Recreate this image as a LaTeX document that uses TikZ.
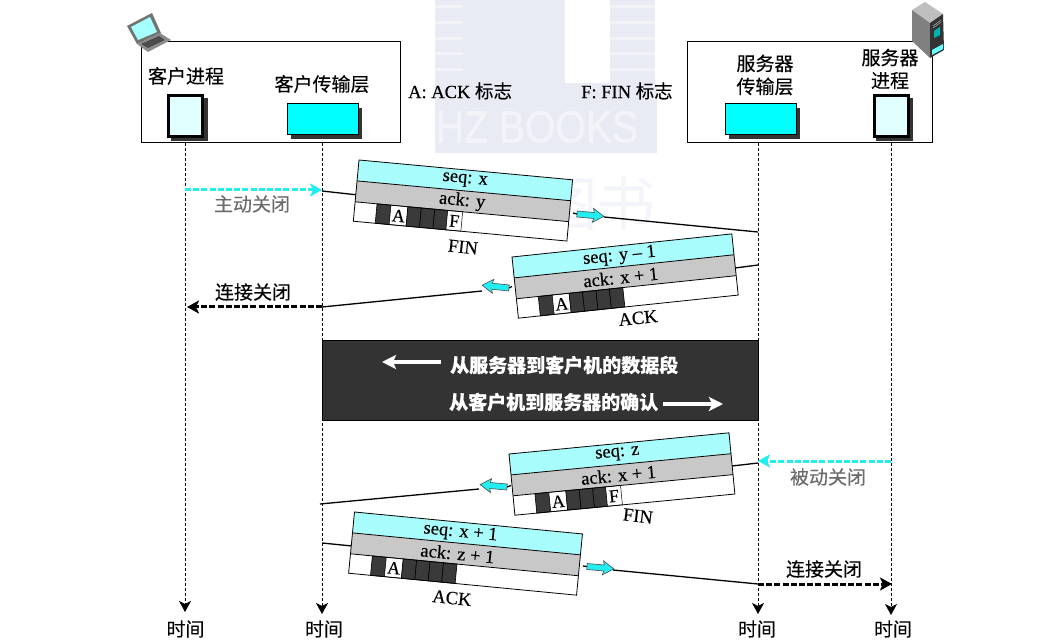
\documentclass[tikz,border=0pt]{standalone}
\usepackage{fontspec}
\setmainfont{Liberation Serif}[FakeBold=0.3]
\newfontfamily\cjk{Noto Sans CJK SC}[FakeBold=0.2]
\newfontfamily\wmfont{Liberation Sans}[FakeBold=1.5]
\usetikzlibrary{arrows.meta}
\definecolor{wm}{HTML}{E9EBF4}
\definecolor{wmline}{HTML}{F1F3F8}
\definecolor{wmtext}{HTML}{F2F4F9}
\definecolor{wmfaint}{HTML}{F4F5FA}
\definecolor{darkcell}{HTML}{3A3A3A}
\definecolor{band}{HTML}{333333}
\definecolor{seqcyan}{HTML}{A9FCFC}
\definecolor{ackgrey}{HTML}{C8C8C8}
\definecolor{proc}{HTML}{E2FFFF}
\definecolor{dgrey}{HTML}{6A6A6A}
\definecolor{arrowcyan}{HTML}{22EDF0}
\definecolor{purecyan}{HTML}{00FFFF}
\definecolor{shadowc}{HTML}{333333}
\tikzset{
  lbl/.style={inner sep=0pt,font=\fontsize{18.5}{20}\selectfont},
  zh/.style={inner sep=0pt,font=\fontsize{19}{22}\selectfont\cjk,align=center},
  zhgrey/.style={zh,text=dgrey},
  zhband/.style={inner sep=0pt,font=\fontsize{19}{22}\selectfont\cjk\bfseries,text=white},
  frame/.style={draw=black,line width=1pt},
  lifeline/.style={line width=1pt,dash pattern=on 3pt off 2pt,-{Stealth[length=11pt,width=12pt,inset=3pt]}},
  cyanflow/.style={line width=3pt,color=arrowcyan,dash pattern=on 6pt off 2.2pt,-{Stealth[length=12pt,width=13pt,inset=3pt]}},
  blackflow/.style={line width=3pt,color=black,dash pattern=on 6pt off 2.2pt,-{Stealth[length=12pt,width=13pt,inset=3pt]}},
  wire/.style={line width=1.3pt,color=black},
  whiteflow/.style={line width=4pt,color=white,-{Stealth[length=14pt,width=14pt,inset=3pt]}},
  procbox/.style={draw=black,line width=3pt,fill=proc,inner sep=0pt,outer sep=0pt,minimum width=34pt,minimum height=41pt},
  transbox/.style={draw=black,line width=1pt,fill=purecyan,inner sep=0pt,outer sep=0pt,minimum width=71pt,minimum height=31pt},
  shadowfill/.style={fill=shadowc},
  blockarrow/.style={draw=black!70,line width=.6pt,fill=arrowcyan},
  segline/.style={draw=black,line width=.8pt},
  darkc/.style={draw=black,line width=.6pt,fill=darkcell},
  flagc/.style={draw=black,line width=.5pt,fill=white},
  flagt/.style={lbl,transform shape,font=\fontsize{18}{20}\selectfont}
}
% #1 name, #2 corner, #3 angle, #4 width, #5 seq, #6 ack, #7 text offset, #8 flag cells
\newcommand\tcpseg[8]{%
  \begin{scope}[shift={#2},rotate=#3]
    \path[fill=seqcyan] (0,0) rectangle (#4,21);
    \path[fill=ackgrey] (0,21) rectangle (#4,42);
    \path[fill=white] (0,42) rectangle (#4,61.5);
    #8
    \draw[segline] (0,0) rectangle (#4,61.5);
    \draw[segline] (0,21) -- (#4,21) (0,42) -- (#4,42);
    \node[lbl,transform shape] (#1seq) at (#7,10.5) {#5};
    \node[lbl,transform shape] (#1ack) at (#7-1,31.5) {#6};
  \end{scope}}
\newcommand\cellsF{%
  \draw[darkc] (22,42) rectangle (36,61.5);
  \draw[flagc] (36,42) rectangle (53,61.5);
  \node[flagt] at (44.5,52) {A};
  \draw[darkc] (53,42) rectangle (66.5,61.5);
  \draw[darkc] (66.5,42) rectangle (80,61.5);
  \draw[darkc] (80,42) rectangle (93,61.5);
  \draw[flagc] (93,42) rectangle (108,61.5);
  \node[flagt] at (100.5,52) {F};}
\newcommand\cellsA{%
  \draw[darkc] (22,42) rectangle (36,61.5);
  \draw[flagc] (36,42) rectangle (53,61.5);
  \node[flagt] at (44.5,52) {A};
  \draw[darkc] (53,42) rectangle (66.5,61.5);
  \draw[darkc] (66.5,42) rectangle (80,61.5);
  \draw[darkc] (80,42) rectangle (93.5,61.5);
  \draw[darkc] (93.5,42) rectangle (107,61.5);}
% block arrow: #1 tail point, #2 angle
\newcommand\blockarr[2]{%
  \begin{scope}[shift={#1},rotate=#2]
    \draw[blockarrow] (0,-3) -- (17,-3) -- (16,-7) -- (27,0) -- (16,7) -- (17,3) -- (0,3) -- cycle;
  \end{scope}}
\begin{document}
\begin{tikzpicture}[x=1pt,y=-1pt]
\useasboundingbox (0,0) rectangle (1055,644);
% watermark
\fill[wm] (435,0) rectangle (565,83);
\fill[wm] (610,0) rectangle (655,83);
\fill[wm] (435,83) rectangle (657,153);
\foreach \yy in {5,21,37,52,68}{
  \fill[wmline] (435,\yy) rectangle (463,\yy+3);
  \fill[wmline] (610,\yy) rectangle (655,\yy+3);
}
\node[inner sep=0pt,text=wmtext,font=\fontsize{45}{47}\selectfont\wmfont] (wmtitle) at (537,127) {\scalebox{.87}[1]{HZ BOOKS}};
\node[inner sep=0pt,text=wmfaint,font=\fontsize{58}{60}\selectfont\cjk] (wmsub) at (597,203) {图书};

% end-system boxes
\node[frame,inner sep=0pt,outer sep=0pt,minimum width=259pt,minimum height=101pt] (clientbox) at (270.5,92.5) {};
\node[frame,inner sep=0pt,outer sep=0pt,minimum width=245pt,minimum height=101pt] (serverbox) at (809.5,92.5) {};
\fill[shadowfill] (171,98) rectangle (208,141);
\fill[shadowfill] (291,108) rectangle (362,139);
\fill[shadowfill] (729,108) rectangle (800,139);
\fill[shadowfill] (876,98) rectangle (913,141);
\node[procbox] (cproc) at (185.5,116) {};
\node[transbox] (ctrans) at (322.5,119.5) {};
\node[transbox] (strans) at (760.5,119.5) {};
\node[procbox] (sproc) at (891,116) {};
\node[zh] (cproct) at (186,76) {客户进程};
\node[zh] (ctranst) at (322,84) {客户传输层};
\node[zh] (stranst) at (765,75) {服务器\\[1pt]传输层};
\node[zh] (sproct) at (890,69) {服务器\\[1pt]进程};
\node[lbl,anchor=west] (aflag) at (408,91) {A: ACK {\cjk 标志}};
\node[lbl,anchor=west] (fflag) at (581,91) {F: FIN {\cjk 标志}};

% laptop icon
\fill[black!55] (127,26) -- (152,13) -- (161,33) -- (137,44) -- cycle;
\fill[purecyan!35] (131,27) -- (150,17) -- (157,32) -- (138,40) -- cycle;
\fill[black!45] (137,44) -- (160,33) -- (171,40) -- (148,52) -- cycle;
\fill[black!70] (141,44) -- (159,36) -- (165,40) -- (148,48) -- cycle;
% server icon
\fill[black!25] (912,10) -- (925,2) -- (943,14) -- (930,23) -- cycle;
\fill[black!50] (912,10) -- (930,23) -- (930,58) -- (912,41) -- cycle;
\fill[black!80] (930,23) -- (943,14) -- (944,50) -- (930,58) -- cycle;
\fill[purecyan!70!black] (934,31) -- (940,27) -- (940,35) -- (934,38) -- cycle;
\fill[purecyan!60] (932,50) -- (943,44) -- (943,49) -- (932,55) -- cycle;
\draw[white!70!black,line width=.5pt] (933,26) -- (941,20) (933,28) -- (941,22);

% time labels and lifeline ends
\node[zh] (t1) at (185.5,629) {时间};
\node[zh] (t2) at (324,629) {时间};
\node[zh] (t3) at (757,629) {时间};
\node[zh] (t4) at (893,629) {时间};
\coordinate (l1a) at (185,143); \coordinate (l1b) at (185,612);
\coordinate (l2a) at (322,143); \coordinate (l2b) at (322,614);
\coordinate (l3a) at (758,143); \coordinate (l3b) at (758,614);
\coordinate (l4a) at (891,143); \coordinate (l4b) at (891,615);
\draw[lifeline] (l1a) -- (l1b);
\draw[lifeline] (l2a) -- (l2b);
\draw[lifeline] (l3a) -- (l3b);
\draw[lifeline] (l4a) -- (l4b);

% band
\node[fill=band,draw=black,line width=.6pt,inner sep=0pt,outer sep=0pt,minimum width=436pt,minimum height=80pt] (bandbox) at (540,380) {};
\node[zhband,anchor=west] (bandt1) at (450,365) {从服务器到客户机的数据段};
\node[zhband,anchor=west] (bandt2) at (449,402) {从客户机到服务器的确认};
\coordinate (ba1) at (441,362); \coordinate (ba2) at (382,362);
\coordinate (bb1) at (663,404); \coordinate (bb2) at (723,404);
\draw[whiteflow] (ba1) -- (ba2);
\draw[whiteflow] (bb1) -- (bb2);

% named ends of connectors
\coordinate (c1a) at (322,191); \coordinate (c1b) at (358,195);
\coordinate (c1c) at (604,217); \coordinate (c1d) at (758,232);
\coordinate (c2a) at (758,265); \coordinate (c2b) at (735,268);
\coordinate (c2c) at (482,291); \coordinate (c2d) at (322,307);
\coordinate (c3a) at (758,463); \coordinate (c3b) at (732,466);
\coordinate (c3c) at (479,489); \coordinate (c3d) at (320,504);
\coordinate (c4a) at (322,543); \coordinate (c4b) at (352,546);
\coordinate (c4c) at (613,570); \coordinate (c4d) at (758,584);
\draw[wire] (c1a) -- (c1b);
\draw[wire] (c1c) -- (c1d);
\draw[wire] (c2a) -- (c2b);
\draw[wire] (c2c) -- (c2d);
\draw[wire] (c3a) -- (c3b);
\draw[wire] (c3c) -- (c3d);
\draw[wire] (c4a) -- (c4b);
\draw[wire] (c4c) -- (c4d);

% flows
\coordinate (f1a) at (185,190); \coordinate (f1b) at (322,190);
\coordinate (f2a) at (322,307); \coordinate (f2b) at (187,307);
\coordinate (f3a) at (891,461); \coordinate (f3b) at (758,461);
\coordinate (f4a) at (758,584); \coordinate (f4b) at (892,584);
\draw[cyanflow] (f1a) -- (f1b);
\draw[blackflow] (f2a) -- (f2b);
\draw[cyanflow] (f3a) -- (f3b);
\draw[blackflow] (f4a) -- (f4b);
\node[zhgrey] (l1) at (252,204) {主动关闭};
\node[zh] (l2) at (253,292) {连接关闭};
\node[zhgrey] (l3) at (828,477) {被动关闭};
\node[zh] (l4) at (824,569) {连接关闭};

% segments
\tcpseg{s1}{(359,160)}{-5.3}{214.5}{seq: x}{ack: y}{107.5}{\cellsF}
\tcpseg{s2}{(512,257)}{6}{221}{seq: y -- 1}{ack: x + 1}{107}{\cellsA}
\tcpseg{s3}{(509,454)}{5.5}{221}{seq: z}{ack: x + 1}{108}{\cellsF}
\tcpseg{s4}{(354.5,512)}{-5.5}{229}{seq: x + 1}{ack: z + 1}{107.5}{\cellsA}
\node[lbl,rotate=-6] (fin1) at (463,247) {FIN};
\node[lbl,rotate=6] (ack2) at (638,318) {ACK};
\node[lbl,rotate=-7] (fin3) at (638,516) {FIN};
\node[lbl,rotate=-6] (ack4) at (452,598) {ACK};

% block arrows
\blockarr{(577,214)}{-5}
\blockarr{(509,288)}{174}
\blockarr{(507,487)}{175}
\blockarr{(587,566.5)}{-5}
\coordinate (e1a) at (573,213); \coordinate (e1b) at (577,214);
\coordinate (e2a) at (512,286.5); \coordinate (e2b) at (509,288);
\coordinate (e3a) at (511,485.5); \coordinate (e3b) at (507,487);
\coordinate (e4a) at (583,566); \coordinate (e4b) at (587,566.5);
\draw[wire] (e1a) -- (e1b);
\draw[wire] (e2a) -- (e2b);
\draw[wire] (e3a) -- (e3b);
\draw[wire] (e4a) -- (e4b);
\end{tikzpicture}
\end{document}
